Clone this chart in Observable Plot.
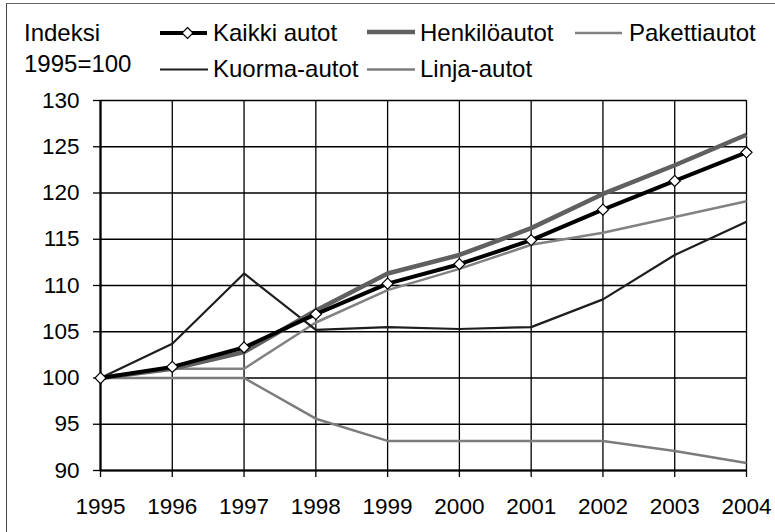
<!DOCTYPE html>
<html>
<head>
<meta charset="utf-8">
<script src="https://cdn.jsdelivr.net/npm/d3@7"></script>
<script src="https://cdn.jsdelivr.net/npm/@observablehq/plot@0.6"></script>
<style>
  html, body { margin: 0; padding: 0; background: #fff; overflow: hidden; }
  #wrap { position: relative; width: 775px; height: 532px; overflow: hidden; background: #fff;
          font-family: "Liberation Sans", Arial, sans-serif; }
  #frame { position: absolute; left: 6px; top: 3px; width: 900px; height: 700px;
           border-left: 1.5px solid #444; border-top: 1.5px solid #666; pointer-events: none; }
  #legend svg, #chart svg { display: block; }
</style>
</head>
<body>
<div id="wrap">
  <div id="legend"></div>
  <div id="chart"></div>
  <div id="frame"></div>
</div>
<script>
// ---- data ----
const years = [1995, 1996, 1997, 1998, 1999, 2000, 2001, 2002, 2003, 2004];
const kaikkiAutot   = [100, 101.2, 103.3, 106.9, 110.2, 112.3, 114.9, 118.2, 121.3, 124.4];
const henkiloautot  = [100, 101.0, 102.8, 107.3, 111.3, 113.3, 116.2, 119.9, 123.0, 126.3];
const pakettiautot  = [100, 101.0, 101.0, 106.0, 109.5, 111.8, 114.4, 115.7, 117.4, 119.1];
const kuormaAutot   = [100, 103.7, 111.3, 105.2, 105.5, 105.3, 105.5, 108.5, 113.3, 116.9];
const linjaAutot    = [100, 100.0, 100.0, 95.6, 93.2, 93.2, 93.2, 93.2, 92.1, 90.8];
const yTicks = [90, 95, 100, 105, 110, 115, 120, 125, 130];
const yAxisTitle = ["Indeksi", "1995=100"];
const seriesNames = ["Kaikki autot", "Henkilöautot", "Pakettiautot", "Kuorma-autot", "Linja-autot"];

const styles = {
  "Kaikki autot": {stroke: "#000000", width: 4},
  "Henkilöautot": {stroke: "#606060", width: 4.5},
  "Pakettiautot": {stroke: "#828282", width: 2.5},
  "Kuorma-autot": {stroke: "#1e1e1e", width: 2.2},
  "Linja-autot":  {stroke: "#7c7c7c", width: 2.5}
};
const seriesValues = {
  "Kaikki autot": kaikkiAutot,
  "Henkilöautot": henkiloautot,
  "Pakettiautot": pakettiautot,
  "Kuorma-autot": kuormaAutot,
  "Linja-autot": linjaAutot
};
const FONT = "Liberation Sans, Arial, sans-serif";
const FS_TICK = 22.5;
const FS_LEG = 24;

function rows(name) {
  return years.map((y, i) => ({year: y, value: seriesValues[name][i], series: name}));
}

// ---- legend (above the plot) ----
const LEG_H = 84;
const legendSvg = d3.create("svg").attr("width", 775).attr("height", LEG_H)
  .attr("font-family", FONT).attr("font-size", FS_LEG);
function legText(x, y, t) {
  legendSvg.append("text").attr("x", x).attr("y", y).attr("fill", "#000").text(t);
}
legText(24, 40.5, yAxisTitle[0]);
legText(24, 71.5, yAxisTitle[1]);
const legendItems = [
  {name: "Kaikki autot", x1: 160, x2: 207, ly: 33, tx: 213, ty: 40.5, marker: true},
  {name: "Henkilöautot", x1: 367, x2: 415, ly: 32, tx: 420, ty: 40.5},
  {name: "Pakettiautot", x1: 575, x2: 622, ly: 33, tx: 629, ty: 40.5},
  {name: "Kuorma-autot", x1: 160, x2: 208, ly: 69.5, tx: 213, ty: 77},
  {name: "Linja-autot", x1: 367, x2: 415, ly: 69.5, tx: 420, ty: 77}
];
for (const it of legendItems) {
  const s = styles[it.name];
  legendSvg.append("line").attr("x1", it.x1).attr("x2", it.x2).attr("y1", it.ly).attr("y2", it.ly)
    .attr("stroke", s.stroke).attr("stroke-width", s.width);
  if (it.marker) {
    const cx = (it.x1 + it.x2) / 2 + 4, cy = it.ly, h = 5.5;
    legendSvg.append("path").attr("d", `M${cx},${cy - h}L${cx + h},${cy}L${cx},${cy + h}L${cx - h},${cy}Z`)
      .attr("fill", "#fff").attr("stroke", "#000").attr("stroke-width", 1.2);
  }
  legText(it.tx, it.ty, it.name);
}
document.getElementById("legend").appendChild(legendSvg.node());

// ---- plot ----
const lineOrder = ["Linja-autot", "Pakettiautot", "Kuorma-autot", "Henkilöautot", "Kaikki autot"];
const plot = Plot.plot({
  width: 775,
  height: 532 - LEG_H,
  marginLeft: 100,
  marginRight: 29,
  marginTop: 100 - LEG_H,
  marginBottom: 62,
  style: {fontFamily: FONT, fontSize: FS_TICK + "px", color: "#000", background: "#fff"},
  x: {domain: [1995, 2004], label: null},
  y: {domain: [90, 130], label: null},
  marks: [
    Plot.gridX(years, {stroke: "#000", strokeOpacity: 1, strokeWidth: 1.3}),
    Plot.gridY(yTicks, {stroke: "#000", strokeOpacity: 1, strokeWidth: 1.3}),
    Plot.axisX(years, {tickSize: 7, tickPadding: 21, tickFormat: d => String(d), stroke: "#000", strokeWidth: 1.3, fontSize: FS_TICK}),
    Plot.axisY(yTicks, {tickSize: 7, tickPadding: 14, stroke: "#000", strokeWidth: 1.3, fontSize: FS_TICK}),
    Plot.ruleY([90], {stroke: "#000", strokeWidth: 2.2}),
    Plot.ruleX([1995], {stroke: "#000", strokeWidth: 2.2}),
    ...lineOrder.map(name => Plot.line(rows(name), {
      x: "year", y: "value", stroke: styles[name].stroke, strokeWidth: styles[name].width,
      strokeLinejoin: "miter", strokeLinecap: "butt"
    })),
    Plot.dot(rows("Kaikki autot"), {x: "year", y: "value", symbol: "diamond2", r: 5,
      fill: "#fff", stroke: "#000", strokeWidth: 1.2})
  ]
});
document.getElementById("chart").appendChild(plot);
</script>
</body>
</html>
